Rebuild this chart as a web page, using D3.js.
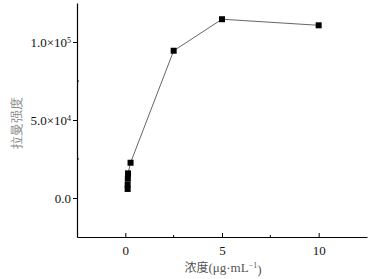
<!DOCTYPE html>
<html>
<head>
<meta charset="utf-8">
<script src="https://cdn.jsdelivr.net/npm/d3@7"></script>
<style>
  body { margin: 0; background: #fff; }
  svg text { font-family: "Liberation Serif", "Times New Roman", serif; }
</style>
</head>
<body>
<div id="chart"></div>
<script>
// concentration (ug/mL) and intensity
const concentration = [0.12, 0.12, 0.13, 0.14, 0.27, 2.5, 5, 10];
const intensity = [5800, 8600, 12400, 15800, 22600, 94400, 114600, 110700];

const yTicks = [0, 50000, 100000];
const yTickLabels = ["0.0", "5.0×10", "1.0×10"];
const yTickExp = ["", "4", "5"];
const xTicks = [0, 5, 10];

const yLabel = "拉曼强度";

const width = 374, height = 279;
const margin = {top: 3, right: 7, bottom: 42, left: 77};

const svg = d3.select("#chart").append("svg")
    .attr("width", width)
    .attr("height", height);

const x = d3.scaleLinear()
    .domain([-2.5, 12.5])
    .range([margin.left, width - margin.right]);

const y = d3.scaleLinear()
    .domain([-25000, 125000])
    .range([height - margin.bottom, margin.top]);

// x axis
const xAxis = svg.append("g")
    .attr("transform", `translate(0,${height - margin.bottom})`)
    .call(d3.axisBottom(x).tickValues(xTicks).tickSize(4).tickSizeOuter(0).tickFormat(d3.format("d")));
xAxis.selectAll(".tick line").attr("transform", "translate(0,-4)").attr("y2", 4);
svg.append("g")
    .attr("transform", `translate(0,${height - margin.bottom})`)
    .selectAll("line")
    .data([2.5, 7.5])
    .join("line")
    .attr("x1", d => x(d)).attr("x2", d => x(d))
    .attr("y1", -2).attr("y2", 0)
    .attr("stroke", "#000");
xAxis.selectAll(".tick text").attr("dy", "0.85em").attr("font-size", 13).attr("fill", "#111")
    .attr("font-family", "Liberation Serif");

// y axis
const yAxis = svg.append("g")
    .attr("transform", `translate(${margin.left},0)`)
    .call(d3.axisLeft(y).tickValues(yTicks).tickSize(4).tickSizeOuter(0).tickFormat(""));
yAxis.selectAll(".tick line").attr("x2", 4).attr("transform", "translate(-4,0)");
svg.append("g")
    .attr("transform", `translate(${margin.left},0)`)
    .selectAll("line")
    .data([25000, 75000])
    .join("line")
    .attr("y1", d => y(d)).attr("y2", d => y(d))
    .attr("x1", 0).attr("x2", 2)
    .attr("stroke", "#000");
svg.selectAll(".domain").attr("stroke", "#000").attr("stroke-width", 1.2);

const yl = svg.append("g").selectAll("text")
    .data(yTicks)
    .join("text")
    .attr("x", margin.left - 6)
    .attr("y", d => y(d))
    .attr("dy", "0.35em")
    .attr("text-anchor", "end")
    .attr("font-size", 13)
    .attr("fill", "#111");
yl.append("tspan").text((d, i) => yTickLabels[i]);
yl.append("tspan")
    .attr("dy", "-0.45em")
    .attr("font-size", 8)
    .text((d, i) => yTickExp[i]);

// line and markers
const pts = concentration.map((c, i) => ({c: c, v: intensity[i]}));
svg.append("path")
    .datum(pts)
    .attr("fill", "none")
    .attr("stroke", "#666")
    .attr("stroke-width", 1)
    .attr("d", d3.line().x(d => x(d.c)).y(d => y(d.v)));

svg.selectAll(".pt")
    .data(pts)
    .join("rect")
    .attr("class", "pt")
    .attr("x", d => x(d.c) - 3)
    .attr("y", d => y(d.v) - 3)
    .attr("width", 6)
    .attr("height", 6)
    .attr("fill", "#000");

// axis titles
const xt = svg.append("text")
    .attr("x", (x(0) + x(10)) / 2 + 1)
    .attr("y", 272)
    .attr("text-anchor", "middle")
    .attr("font-size", 13)
    .attr("fill", "#555");
xt.append("tspan").attr("font-family", "Noto Sans CJK SC").attr("font-size", 12).text("浓度");
xt.append("tspan").text("(μg·mL");
xt.append("tspan").attr("dy", "-0.45em").attr("font-size", 8).text("−1");
xt.append("tspan").attr("dy", "0.45em").text(")");

svg.append("text")
    .attr("transform", `translate(16,${y(50000) + 3}) rotate(-90)`)
    .attr("dy", "0.35em")
    .attr("text-anchor", "middle")
    .attr("font-family", "Noto Sans CJK SC")
    .attr("font-size", 13)
    .attr("fill", "#888")
    .text(yLabel);
</script>
</body>
</html>
